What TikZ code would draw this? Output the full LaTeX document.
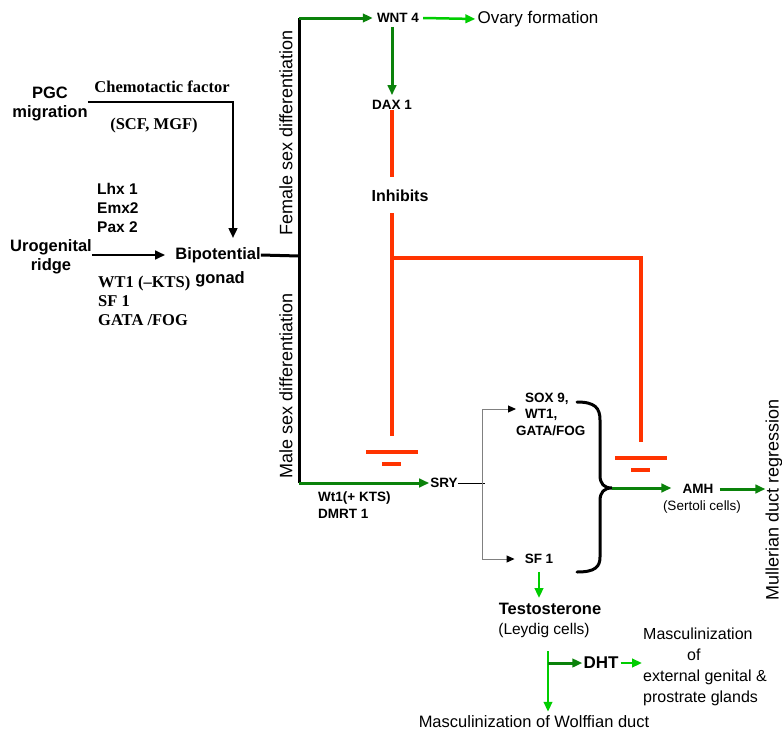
\documentclass[tikz,border=0pt]{standalone}
\usepackage{fontspec}
\setmainfont{Liberation Sans}
\newfontfamily\tnr{Liberation Serif}
\usetikzlibrary{arrows.meta,calc}

\definecolor{dkgreen}{RGB}{10,130,10}
\definecolor{ltgreen}{RGB}{0,205,0}
\definecolor{inhred}{RGB}{255,51,0}

\begin{document}
\begin{tikzpicture}[x=1pt,y=-1pt]
        % Label and line style definitions
        \tikzset{
            gene/.style={inner sep=0pt, font=\bfseries\fontsize{13.5}{16.5}\selectfont},
            big/.style={inner sep=0pt, font=\bfseries\fontsize{16.5}{18.5}\selectfont},
            note/.style={inner sep=0pt, font=\fontsize{16.5}{21}\selectfont},
            serifbf/.style={inner sep=0pt, font=\tnr\bfseries\fontsize{16.5}{19}\selectfont},
            sidelbl/.style={inner sep=0pt, rotate=90, font=\fontsize{18}{20}\selectfont},
            trunk/.style={black, line width=3pt},
            blk/.style={black, line width=2.5pt},
            dkg/.style={dkgreen, line width=3pt},
            ltg/.style={ltgreen, line width=2.5pt},
            inh/.style={inhred, line width=3.5pt},
            gbar/.style={inhred, line width=4pt},
            gry/.style={gray, line width=1pt},
            arr/.style={-{Triangle[length=10pt, width=8.5pt]}},
            garr/.style={-{Triangle[length=8pt, width=7pt, color=black]}},
            bracepath/.style={black, line width=3pt, line cap=round}
        }
        \useasboundingbox (0,0) rectangle (782,734);

        % ==========================================
        % BIPOTENTIAL GONAD (left side)
        % ==========================================
        \node[big, align=center] (pgc) at (50,104) {PGC\\migration};
        \node[serifbf] (chem) at (162,87) {Chemotactic factor};
        \node[serifbf] (scf) at (154,126) {(SCF, MGF)};
        \node[big, align=left, anchor=west, font=\bfseries\fontsize{15.5}{19}\selectfont]
            (lhx) at (97,208) {Lhx 1\\Emx2\\Pax 2};
        \node[big, align=center] (uro) at (51,257) {Urogenital\\ridge};
        \node[big] (bip) at (218,255) {Bipotential};
        \node[big] (gonad) at (220,279) {gonad};
        \node[serifbf, align=left, anchor=west] (wt) at (98,301) {WT1 (–KTS)\\SF 1\\GATA /FOG};

        \draw[blk, arr] ([yshift=2pt]pgc.east) -| ($(bip.north)+(15,-9)$);
        \draw[blk, arr] (uro.east |- bip.west) -- ([xshift=-10pt]bip.west);

        % trunk splitting into female / male branches
        \coordinate (junc) at (299,256);
        \coordinate (ftop) at (299,18);
        \coordinate (mbot) at (299,483);
        \draw[trunk] (bip.east) -- (junc);
        \draw[trunk] (ftop) -- (mbot);
        \node[sidelbl] (female) at (286,133) {Female sex differentiation};
        \node[sidelbl] (male) at (286,386) {Male sex differentiation};

        % ==========================================
        % FEMALE BRANCH (top)
        % ==========================================
        \node[gene] (wnt) at (398,18) {WNT 4};
        \node[note, font=\fontsize{17}{20}\selectfont] (ovary) at (538,19) {Ovary formation};
        \node[gene] (dax) at (392,105) {DAX 1};
        \node[big, font=\bfseries\fontsize{16}{18}\selectfont] (inhib) at (400,196) {Inhibits};

        \draw[dkg, arr] (ftop) -- ([xshift=-4pt]wnt.west);
        \draw[ltg, arr] ([xshift=4pt]wnt.east) -- ([xshift=-2pt]ovary.west);
        \draw[dkg, arr] ([yshift=-4pt]dax.north |- wnt.south) -- ([yshift=5pt]dax.north);

        % inhibition lines ending in blocking bars
        \coordinate (rjL) at (392,258);
        \coordinate (rjR) at (641,258);
        \coordinate (gndL) at (392,436);
        \coordinate (gndR) at (641,442);
        \draw[inh] (dax.south) -- ($(dax.south |- inhib.north)+(0,-13)$);
        \draw[inh] ($(dax.south |- inhib.south)+(0,11)$) -- (gndL);
        \draw[inh] (rjL) -- (rjR) -- (gndR);
        \foreach \g in {gndL,gndR} {
            \draw[gbar] ($(\g)+(-26,16)$) -- ++(52,0);
            \draw[gbar] ($(\g)+(-10,28)$) -- ++(19,0);
        }

        % ==========================================
        % MALE BRANCH (bottom)
        % ==========================================
        \node[gene] (sry) at (444,483) {SRY};
        \node[gene, align=left, anchor=west] (wtk) at (318,505) {Wt1(+ KTS)\\DMRT 1};
        \node[gene, align=left, anchor=west] (sox) at (516,414)
            {\hspace*{9pt}SOX 9,\\\hspace*{9pt}WT1,\\GATA/FOG};
        \node[gene] (sf) at (539,559) {SF 1};

        \draw[dkg, arr] (mbot) -- ([xshift=-1pt]sry.west |- mbot);
        \coordinate (br) at (482,483);
        \draw[black, line width=1pt] (sry.east) -- ([xshift=3pt]br);
        \draw[gry, garr] (br) |- ([yshift=5pt]sox.west);
        \draw[gry, garr] (br) |- ([xshift=-10pt]sf.west);

        % brace joining both outputs
        \coordinate (btip) at (612,488);
        \draw[bracepath] (577,402) .. controls (595,402) and (600,408) .. (600,420)
            -- (600,475) .. controls (600,484) and (604,488) .. (btip)
            .. controls (604,488) and (600,492) .. (600,501)
            -- (600,557) .. controls (600,567) and (595,572) .. (577,572);

        \node[gene] (amh) at (698,489) {AMH};
        \node[note, font=\fontsize{13.5}{16}\selectfont] (sertoli) at (702,507) {(Sertoli cells)};
        \node[sidelbl] (mull) at (774,500) {Mullerian duct regression};
        \draw[dkg, arr] (btip) -- ([xshift=-11pt]amh.west |- btip);
        \draw[dkg, arr] ([xshift=6pt]amh.east) -- (amh.east -| mull.north);

        % testosterone and its targets
        \node[big] (testo) at (550,609) {Testosterone};
        \node[note, font=\fontsize{15.5}{18}\selectfont] (leydig) at (544,630) {(Leydig cells)};
        \node[big, font=\bfseries\fontsize{17}{19}\selectfont] (dht) at (601,663) {DHT};
        \node[note, align=left, anchor=west, font=\fontsize{16}{21}\selectfont] (masc) at (643,667)
            {Masculinization\\\hspace*{44pt}of\\external genital \&\\prostrate glands};
        \node[note] (wolff) at (534,722) {Masculinization of Wolffian duct};

        \draw[ltg, arr] ([yshift=-8pt]sf.south) -- ([yshift=5pt]sf.south |- testo.north);
        \coordinate (tbase) at (548,651);
        \coordinate (dbr) at (548,663);
        \draw[ltg, arr] (tbase) -- ($(tbase |- wolff.north)+(0,-4)$);
        \draw[dkg, arr] (dbr) -- ([xshift=-1pt]dht.west);
        \draw[ltg, arr] ([xshift=2pt]dht.east) -- ([xshift=-1pt]masc.west |- dht.east);

    \end{tikzpicture}
\end{document}
